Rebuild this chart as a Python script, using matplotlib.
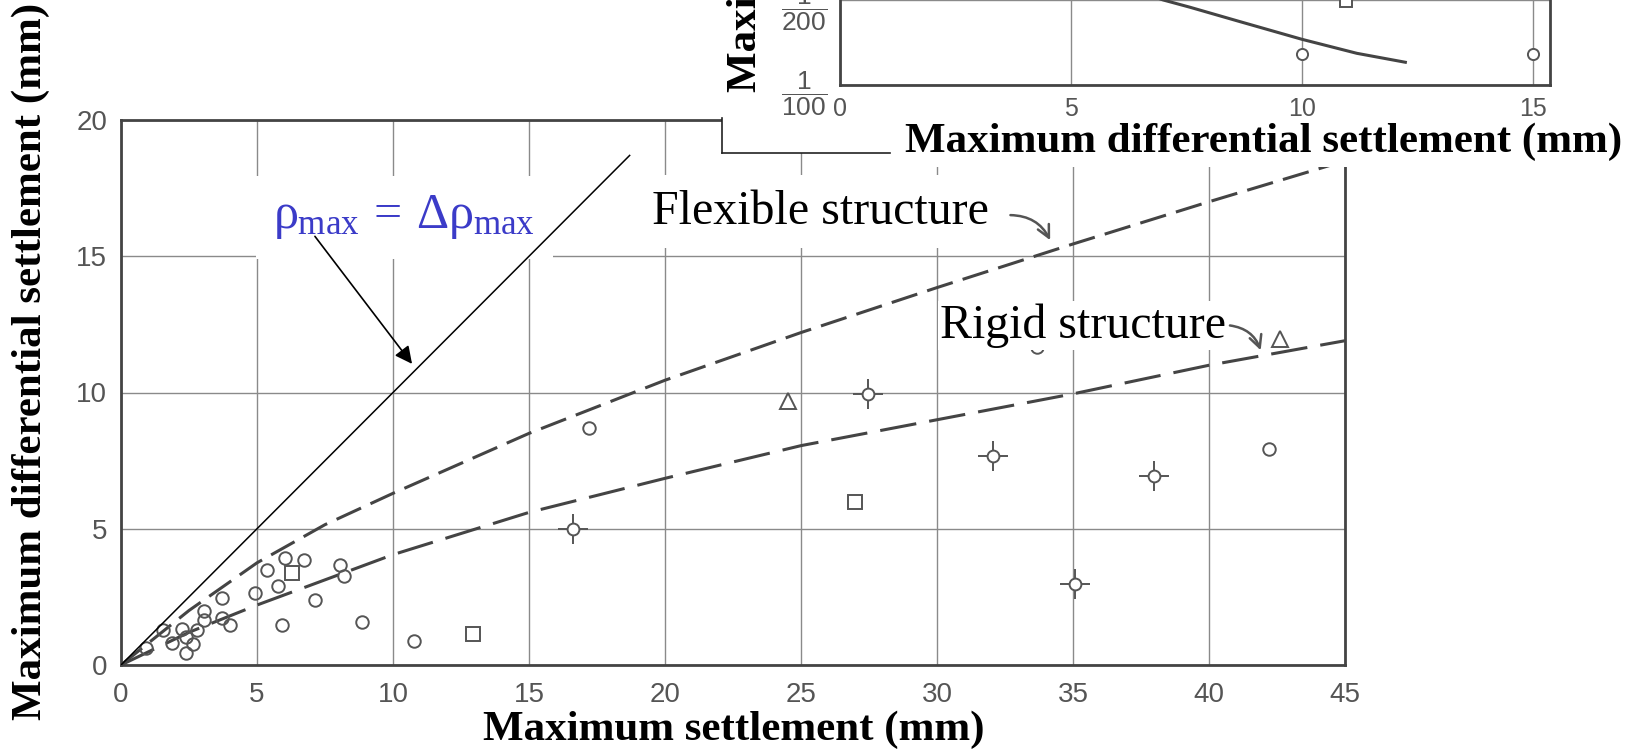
import matplotlib
matplotlib.use("Agg")
import matplotlib.pyplot as plt
from matplotlib.patches import Rectangle
from matplotlib.lines import Line2D

plt.rcParams['font.family'] = 'Liberation Sans'
plt.rcParams['mathtext.fontset'] = 'custom'
plt.rcParams['mathtext.rm'] = 'Liberation Serif'
plt.rcParams['mathtext.it'] = 'Liberation Serif'
plt.rcParams['mathtext.sf'] = 'Liberation Sans'

# main chart data
circ_x = [0.92, 1.56, 1.86, 2.23, 2.39, 2.39, 2.66, 2.78, 3.05, 3.05, 3.70, 3.70,
          4.0, 4.93, 5.38, 5.78, 6.03, 5.91, 6.74, 7.14, 8.05, 8.2, 8.85, 10.77,
          17.2, 42.2, 33.66]
circ_y = [0.61, 1.29, 0.82, 1.31, 1.04, 0.45, 0.77, 1.29, 1.66, 1.99, 2.46, 1.72,
          1.47, 2.66, 3.50, 2.91, 3.93, 1.47, 3.87, 2.39, 3.68, 3.25, 1.56, 0.88,
          8.68, 7.93, 11.66]
cross_x = [16.6, 27.47, 32.07, 37.99, 35.07]
cross_y = [5.0, 9.94, 7.67, 6.94, 2.98]
tri_x = [24.53, 42.6]
tri_y = [9.70, 11.97]
sq_x = [6.27, 12.95, 27.0]
sq_y = [3.38, 1.14, 5.98]

flex_x = [0, 2.5, 5, 7.5, 10, 15, 20, 25, 30, 35, 40, 45]
flex_y = [0, 2.0, 3.75, 5.15, 6.3, 8.5, 10.45, 12.2, 13.85, 15.45, 17.0, 18.5]
rigid_x = [0, 2.5, 5, 10, 15, 20, 25, 30, 35, 40, 45]
rigid_y = [0, 1.2, 2.2, 4.05, 5.6, 6.85, 8.05, 9.0, 9.95, 11.0, 11.9]
equal_x = [0, 18.7]
equal_y = [0, 18.7]

# inset data
ins_curve_x = [6.2, 7.0, 7.58, 8.66, 10.0, 11.19, 12.24]
ins_curve_y = [216, 200.6, 192.0, 175.0, 154.1, 137.5, 126.9]
ins_circ_x = [10, 15]
ins_circ_y = [136.7, 136.7]
ins_sq_x = [10.95]
ins_sq_y = [199]

W, H = 1635, 751
gray = '#555555'
serif = 'Liberation Serif'

fig = plt.figure(figsize=(W / 100, H / 100), dpi=100)

ax = fig.add_axes([121 / W, 1 - 665 / H, (1345 - 121) / W, (665 - 120) / H])
ax.set_xlim(0, 45)
ax.set_ylim(0, 20)
ax.set_xticks(range(0, 46, 5))
ax.set_yticks(range(0, 21, 5))
ax.set_axisbelow(True)
ax.grid(True, color='#8a8a8a', lw=1.0)
ax.tick_params(length=0, labelsize=20, labelcolor=gray)
ax.tick_params(axis='x', pad=12)
ax.tick_params(axis='y', pad=10)
for s in ax.spines.values():
    s.set_color('#444444')
    s.set_linewidth(2.0)

ax.plot(flex_x, flex_y, color='#444444', lw=2.2, dashes=(8.8, 3.4))
ax.plot(rigid_x, rigid_y, color='#444444', lw=2.2, dashes=(12, 4.3))
ax.plot(equal_x, equal_y, color='black', lw=1.1, zorder=6)

ax.plot(circ_x, circ_y, 'o', ms=9, mfc='none', mec=gray, mew=1.4, ls='none', zorder=3)
ax.plot(cross_x, cross_y, '+', ms=22, mew=1.4, color=gray, ls='none', zorder=3)
ax.plot(cross_x, cross_y, 'o', ms=8.5, mfc='white', mec=gray, mew=1.4, ls='none', zorder=3)
ax.plot(tri_x, tri_y, '^', ms=11, mfc='none', mec=gray, mew=1.4, ls='none', zorder=3)
ax.plot(sq_x, sq_y, 's', ms=10, mfc='none', mec=gray, mew=1.4, ls='none', zorder=3)

ax.text(19.52, 16.2, 'Flexible structure', family=serif, fontsize=34.5,
        ha='left', va='baseline', zorder=4,
        bbox=dict(boxstyle='square,pad=0.3', fc='white', ec='none'))
ax.text(30.11, 12.0, 'Rigid structure', family=serif, fontsize=34.5,
        ha='left', va='baseline', zorder=4,
        bbox=dict(boxstyle='square,pad=0.05', fc='white', ec='none'))
ax.text(5.6, 16.02, r'$\rho_{\mathrm{max}}\,=\,\Delta\rho_{\mathrm{max}}$',
        color='#3b3bc8', fontsize=36, ha='left', va='baseline', zorder=4,
        bbox=dict(boxstyle='square,pad=0.35', fc='white', ec='none'))

ax.annotate('', xy=(10.7, 11.05), xytext=(7.13, 15.73), zorder=7,
            arrowprops=dict(arrowstyle='-|>', color='black', lw=1.2,
                            mutation_scale=26, shrinkA=0, shrinkB=0))
ax.annotate('', xy=(34.16, 15.59), xytext=(32.7, 16.51), zorder=7,
            arrowprops=dict(arrowstyle='->', color=gray, lw=1.8, mutation_scale=22,
                            connectionstyle='arc3,rad=-0.3', shrinkA=0, shrinkB=0))
ax.annotate('', xy=(41.9, 11.55), xytext=(40.77, 12.46), zorder=7,
            arrowprops=dict(arrowstyle='->', color=gray, lw=1.8, mutation_scale=22,
                            connectionstyle='arc3,rad=-0.3', shrinkA=0, shrinkB=0))

fig.text(31 / W, 1 - 361 / H, 'Maximum differential settlement (mm)', family=serif,
         weight='bold', fontsize=31, rotation=90, ha='center', va='center')
fig.text(734 / W, 1 - 730 / H, 'Maximum settlement (mm)', family=serif,
         weight='bold', fontsize=31, ha='center', va='center')

# white panel that holds the cropped inset
fig.add_artist(Rectangle((722 / W, 1 - 153 / H), 1, 1, transform=fig.transFigure,
                         fc='white', ec='none', zorder=1))
fig.add_artist(Line2D([722 / W, 722 / W], [1 - 118 / H, 1 - 153 / H],
                      transform=fig.transFigure, color='#222222', lw=1.2, zorder=1.5))
fig.add_artist(Line2D([722 / W, 890 / W], [1 - 153 / H, 1 - 153 / H],
                      transform=fig.transFigure, color='#222222', lw=1.2, zorder=1.5))

ax2 = fig.add_axes([839.7 / W, 1 - 85 / H, (1550 - 839.7) / W, 125 / H])
ax2.set_zorder(2)
ax2.set_xlim(0, 15.37)
ax2.set_ylim(100, 247.9)
ax2.set_xticks([0, 5, 10, 15])
ax2.set_yticks([100, 200])
ax2.set_yticklabels([r'$\mathsf{\dfrac{1}{100}}$', r'$\mathsf{\dfrac{1}{200}}$'])
ax2.set_axisbelow(True)
ax2.grid(True, color='#8a8a8a', lw=1.0)
ax2.tick_params(length=0, labelcolor=gray)
ax2.tick_params(axis='x', labelsize=18, pad=9)
ax2.tick_params(axis='y', labelsize=19, pad=9)
for s in ax2.spines.values():
    s.set_color('#444444')
    s.set_linewidth(2.0)
ax2.plot(ins_curve_x, ins_curve_y, color='#444444', lw=2.2)
ax2.plot(ins_circ_x, ins_circ_y, 'o', ms=8, mfc='white', mec=gray, mew=1.4, ls='none')
ax2.plot(ins_sq_x, ins_sq_y, 's', ms=8.5, mfc='white', mec=gray, mew=1.4, ls='none')

fig.text(746 / W, 1 - 92 / H, 'Maximum angular distortion', family=serif,
         weight='bold', fontsize=31, rotation=90, ha='center', va='bottom', zorder=3)
fig.text(1622 / W, 1 - 152 / H, 'Maximum differential settlement (mm)', family=serif,
         weight='bold', fontsize=31, ha='right', va='baseline', zorder=3,
         bbox=dict(boxstyle='square,pad=0.15', fc='white', ec='none'))

fig.savefig('out.png', dpi=100)
